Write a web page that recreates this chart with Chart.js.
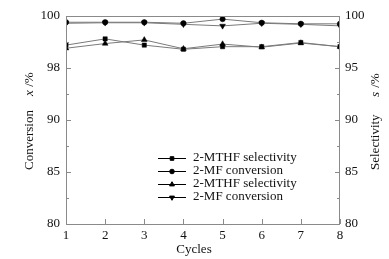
<!DOCTYPE html>
<html><head><meta charset="utf-8">
<script src="https://cdn.jsdelivr.net/npm/chart.js@4.4.1/dist/chart.umd.min.js"></script>
<style>html,body{margin:0;padding:0;background:#fff;}#wrap{width:389px;height:259px;}</style>
</head><body><div id="wrap"><canvas id="c" width="389" height="259"></canvas></div>
<script>
const cycles = [1, 2, 3, 4, 5, 6, 7, 8];
const seriesLabels = ['2-MTHF selectivity', '2-MF conversion', '2-MTHF selectivity', '2-MF conversion'];
const mthfSelA = [97.2, 97.8, 97.2, 96.8, 97.05, 97.05, 97.45, 97.05];
const mfConvA  = [99.4, 99.4, 99.4, 99.3, 99.7, 99.35, 99.25, 99.25];
const mthfSelB = [96.9, 97.35, 97.7, 96.85, 97.3, 97.0, 97.4, 97.05];
const mfConvB  = [99.3, 99.35, 99.35, 99.2, 99.05, 99.3, 99.2, 99.05];
const leftTickValues = [80, 85, 90, 95, 100];
const leftTickLabels = ['80', '85', '90', '98', '100'];
const rightTickLabels = ['80', '85', '90', '95', '100'];

const FONT = '"Liberation Serif", "Times New Roman", serif';
const AXIS = '#8a8a8a';
const LINE = '#7a7a7a';

function pts(arr){ return arr.map((v,i)=>({x:cycles[i], y:v})); }
const styles = [
  {pointStyle:'rect', radius:3, rot:0},
  {pointStyle:'circle', radius:2.7, rot:0},
  {pointStyle:'triangle', radius:3.3, rot:0},
  {pointStyle:'triangle', radius:3.3, rot:180}
];
const vals = [mthfSelA, mfConvA, mthfSelB, mfConvB];
const datasets = vals.map((v,i)=>({
  label: seriesLabels[i], data: pts(v), borderColor: LINE, borderWidth: 1,
  pointStyle: styles[i].pointStyle, pointRadius: styles[i].radius, pointRotation: styles[i].rot,
  pointBackgroundColor:'#000', pointBorderColor:'#000', pointBorderWidth:0.5, tension:0
}));

const deco = {
  id:'deco',
  afterDraw(chart){
    const ctx = chart.ctx, a = chart.chartArea;
    const y = chart.scales.y, x = chart.scales.x;
    ctx.save();
    ctx.strokeStyle = AXIS; ctx.lineWidth = 1;
    ctx.strokeRect(a.left+0.5, a.top+0.5, a.right-a.left-1, a.bottom-a.top);
    for(let v=80; v<=100; v+=2.5){
      const py = Math.round(y.getPixelForValue(v))+0.5;
      const len = (v%5===0)?5:3;
      ctx.beginPath();
      ctx.moveTo(a.left, py); ctx.lineTo(a.left+len, py);
      ctx.moveTo(a.right, py); ctx.lineTo(a.right-len, py);
      ctx.stroke();
    }
    cycles.forEach(c=>{
      const px = Math.round(x.getPixelForValue(c))+0.5;
      ctx.beginPath(); ctx.moveTo(px, a.bottom); ctx.lineTo(px, a.bottom-5); ctx.stroke();
    });
    ctx.fillStyle = '#111';
    ctx.textBaseline = 'middle';
    ctx.font = '13px ' + FONT;
    ctx.textAlign = 'center';
    ctx.fillText('Cycles', 194, 250);
    ctx.save(); ctx.translate(30, 0); ctx.rotate(-Math.PI/2);
    ctx.textAlign = 'left';
    ctx.font = '13px ' + FONT; ctx.fillText('Conversion', -170, 0);
    ctx.font = 'italic 13px ' + FONT; ctx.fillText('x', -96, 0);
    ctx.font = '13px ' + FONT; ctx.fillText(' /%', -90, 0);
    ctx.restore();
    ctx.save(); ctx.translate(376, 0); ctx.rotate(-Math.PI/2);
    ctx.textAlign = 'left';
    ctx.font = '13px ' + FONT; ctx.fillText('Selectivity', -170, 0);
    ctx.font = 'italic 13px ' + FONT; ctx.fillText('s', -97, 0);
    ctx.font = '13px ' + FONT; ctx.fillText(' /%', -91, 0);
    ctx.restore();
    const rows = [158, 171, 184, 197];
    chart.data.datasets.forEach((ds,i)=>{
      const ry = rows[i]+0.5;
      ctx.strokeStyle = '#000'; ctx.lineWidth = 1;
      ctx.beginPath(); ctx.moveTo(158, ry); ctx.lineTo(186, ry); ctx.stroke();
      ctx.fillStyle = '#000'; ctx.strokeStyle = '#000';
      Chart.helpers.drawPoint(ctx, {pointStyle: ds.pointStyle, radius: ds.pointRadius*0.85, rotation: ds.pointRotation, borderWidth: 0.5}, 172, ry);
      ctx.fillStyle = '#111';
      ctx.font = '13px ' + FONT; ctx.textAlign = 'left'; ctx.textBaseline = 'middle';
      ctx.fillText(ds.label, 193, rows[i]);
    });
    ctx.restore();
  }
};

new Chart(document.getElementById('c'), {
  type:'line',
  data:{ datasets },
  options:{
    responsive:false, animation:false, devicePixelRatio:1,
    layout:{ padding:{ top:16, left:0, right:0, bottom:0 } },
    plugins:{ legend:{display:false}, tooltip:{enabled:false} },
    scales:{
      x:{ type:'linear', min:1, max:8,
        afterBuildTicks(s){ s.ticks = cycles.map(v=>({value:v})); },
        afterFit(s){ s.height = 35; },
        grid:{ display:false, drawTicks:false }, border:{ display:false },
        ticks:{ padding:4, color:'#111', font:{ family:FONT, size:13 } } },
      y:{ position:'left', min:80, max:100,
        afterBuildTicks(s){ s.ticks = leftTickValues.map(v=>({value:v})); },
        afterFit(s){ s.width = 66; },
        grid:{ display:false, drawTicks:false }, border:{ display:false },
        ticks:{ padding:6, color:'#111', font:{ family:FONT, size:13 },
          callback:(v)=>leftTickLabels[leftTickValues.indexOf(v)] } },
      y2:{ position:'right', min:80, max:100,
        afterBuildTicks(s){ s.ticks = leftTickValues.map(v=>({value:v})); },
        afterFit(s){ s.width = 49; },
        grid:{ display:false, drawTicks:false }, border:{ display:false },
        ticks:{ padding:5, color:'#111', font:{ family:FONT, size:13 },
          callback:(v)=>rightTickLabels[leftTickValues.indexOf(v)] } }
    }
  },
  plugins:[deco]
});
</script></body></html>
